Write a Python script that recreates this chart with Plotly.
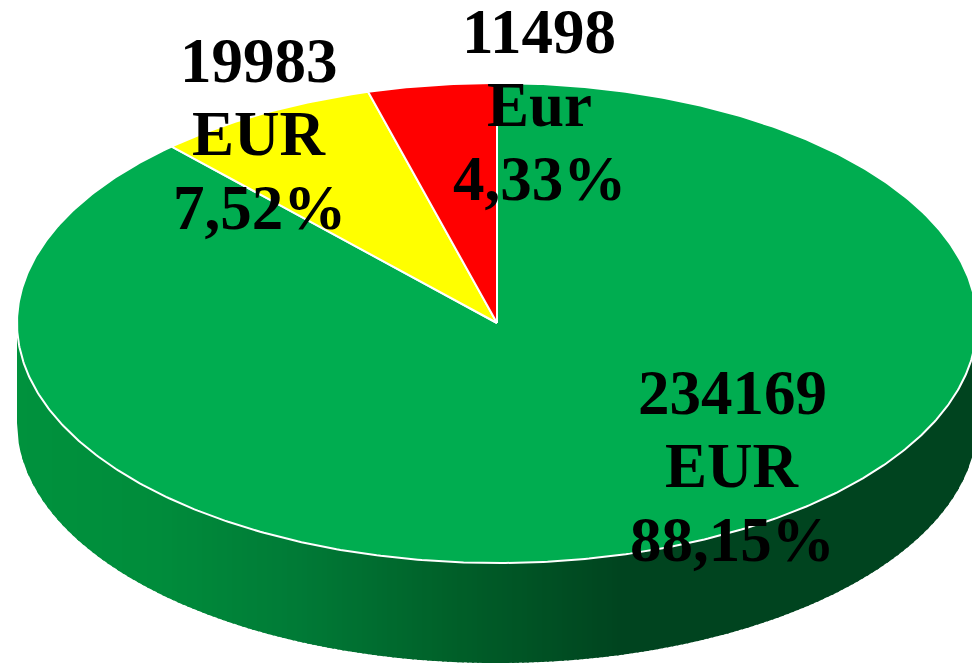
import numpy as np
import plotly.graph_objects as go

values = [234169, 19983, 11498]
currencies = ["EUR", "EUR", "Eur"]
percent_labels = ["88,15%", "7,52%", "4,33%"]
slice_colors = ["#00AD50", "#FFFF00", "#FF0000"]

W, H = 972, 664
CX, CY, RX, RY, DEPTH = 497, 323, 480, 240, 100
FONT = 63
LINE_STEP = 73.5
label_centers = [(732, 415), (259, 83), (539, 54)]  # x centre, first baseline (px)
grad_x = [17, 160, 300, 450, 620, 972]
grad_rgb = [(0, 146, 61), (0, 140, 59), (0, 122, 54), (0, 96, 41), (0, 68, 31), (0, 68, 31)]

fig = go.Figure()

def px_x(x): return (x - CX) / RX
def px_y(y): return (CY - y) / RY
depth_u = DEPTH / RY

# Side wall, as shaded vertical bands
edges = np.linspace(-1, 1, 193)
for i in range(len(edges) - 1):
    u0, u1 = edges[i], min(edges[i + 1] + 0.004, 1)
    us = np.linspace(u0, u1, 5)
    low = -np.sqrt(np.clip(1 - us ** 2, 0, 1))
    xs = np.r_[us, us[::-1]]
    ys = np.r_[low - depth_u, low[::-1]]
    mid = CX + RX * (u0 + edges[i + 1]) / 2
    g = np.interp(mid, grad_x, [c[1] for c in grad_rgb])
    b = np.interp(mid, grad_x, [c[2] for c in grad_rgb])
    fig.add_trace(go.Scatter(x=xs, y=ys, mode="lines", fill="toself", line=dict(width=0),
                             fillcolor=f"rgb(0,{g:.0f},{b:.0f})", hoverinfo="skip", showlegend=False))

# Top wedges, clockwise from 12 o'clock
fractions = np.array(values) / sum(values)
starts = np.r_[0, np.cumsum(fractions)[:-1]]
for f, s, col in zip(fractions, starts, slice_colors):
    t = 2 * np.pi * np.linspace(s, s + f, max(int(f * 720), 4))
    xs = np.r_[0, np.sin(t), 0]
    ys = np.r_[0, np.cos(t), 0]
    fig.add_trace(go.Scatter(x=xs, y=ys, mode="lines", fill="toself", fillcolor=col,
                             line=dict(color="white", width=2), hoverinfo="skip", showlegend=False))

# Labels, one annotation per line for the tight line spacing
for v, cur, pct, (lx, ly) in zip(values, currencies, percent_labels, label_centers):
    for j, line in enumerate([str(v), cur, pct]):
        base = ly + j * LINE_STEP
        fig.add_annotation(x=px_x(lx), y=px_y(base - FONT * 0.29 - 4), text=f"<b>{line}</b>", showarrow=False,
                           xanchor="center", yanchor="middle",
                           font=dict(family="Liberation Serif", size=FONT, color="black"))

fig.update_layout(
    width=W, height=H, margin=dict(l=0, r=0, t=0, b=0),
    paper_bgcolor="white", plot_bgcolor="white", showlegend=False,
    xaxis=dict(range=[px_x(0), px_x(W)], visible=False, fixedrange=True),
    yaxis=dict(range=[px_y(H), px_y(0)], visible=False, fixedrange=True),
)
fig.write_html("out.html", config={"displayModeBar": False},
               post_script="document.body.style.margin='0';document.body.style.overflow='hidden';")
